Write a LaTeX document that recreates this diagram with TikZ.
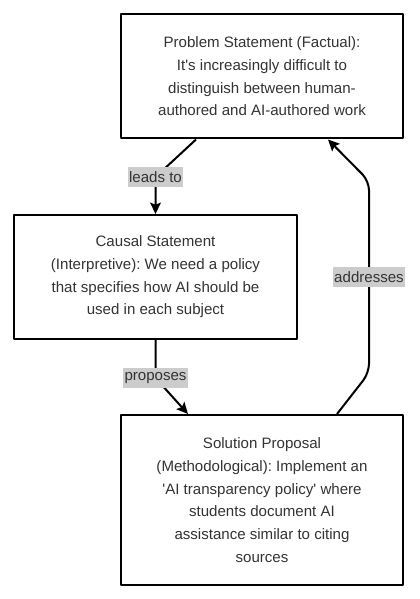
\documentclass[tikz,border=0pt]{standalone}
\usepackage{fontspec}
\setmainfont{Liberation Sans}
\usetikzlibrary{arrows.meta}
\frenchspacing
\definecolor{txtgray}{HTML}{333333}
\definecolor{lblgray}{HTML}{CCCCCC}
\tikzset{
  stmt/.style={draw=black, line width=1.5pt, align=center, text=txtgray, font=\fontsize{11.3}{17}\selectfont, inner sep=0pt},
  edgelbl/.style={fill=lblgray, text=txtgray, font=\fontsize{11.3}{13}\selectfont, sharp corners, inner xsep=1pt, inner ysep=3pt},
  conn/.style={->, line width=1.5pt, rounded corners=7pt}
}
\begin{document}
\begin{tikzpicture}[x=0.75pt, y=-0.75pt, line join=round, >={Stealth[length=8.5pt,width=8pt,inset=1.5pt]}]
\useasboundingbox (0,0) rectangle (420,599);
\node[stmt, minimum width=211.5pt, minimum height=93pt] (problem) at (262,76.5) {Problem Statement (Factual):\\It\textquotesingle s increasingly difficult to\\distinguish between human-\\authored and AI-authored work};
\node[stmt, minimum width=212.25pt, minimum height=93pt] (causal) at (155.5,277) {Causal Statement\\(Interpretive): We need a policy\\that specifies how AI should be\\used in each subject};
\node[stmt, minimum width=211.5pt, minimum height=127.5pt] (solution) at (262,500) {Solution Proposal\\(Methodological): Implement an\\\textquotesingle AI transparency policy\textquotesingle{} where\\students document AI\\assistance similar to citing\\sources};
% connectors
\draw[conn] ([xshift=-49.5pt]problem.south) -- (155.5,177) node[edgelbl] (leadsto) {leads to} -- (causal.north);
\draw[conn] (causal.south) -- (155.5,378) node[edgelbl] (proposes) {proposes} -- ([xshift=-55.5pt]solution.north);
\draw[conn] ([xshift=56.25pt]solution.north) -- (369,373) -- node[edgelbl] (addresses) {addresses} (369,181) -- ([xshift=49.5pt]problem.south);
\end{tikzpicture}
\end{document}
